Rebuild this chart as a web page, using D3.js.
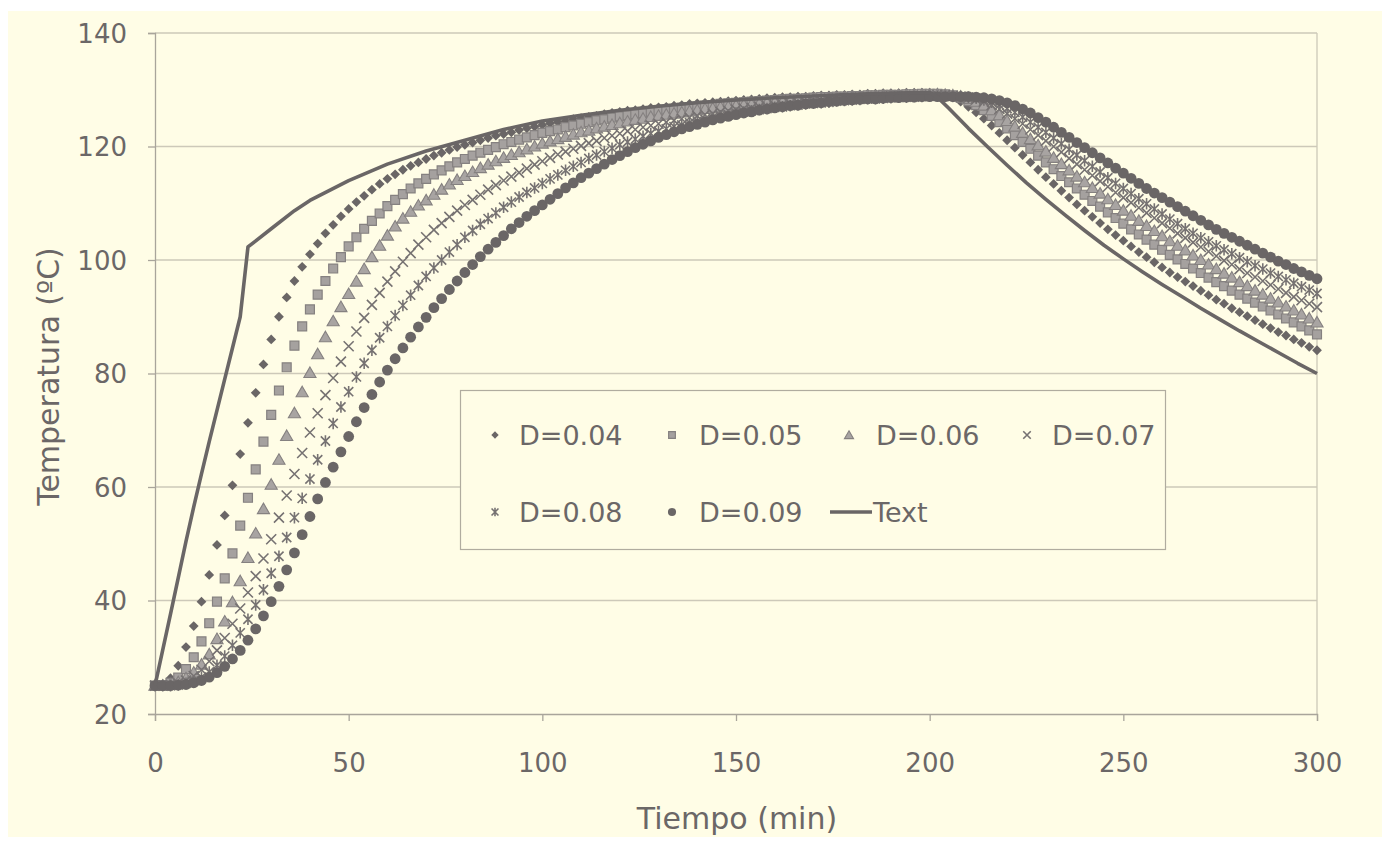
<!DOCTYPE html>
<html><head><meta charset="utf-8">
<script src="https://cdn.jsdelivr.net/npm/d3@7"></script>
<style>html,body{margin:0;padding:0;background:#fff;}svg{display:block;}</style>
</head><body>
<svg id="chart" width="1382" height="844"></svg>
<script>
// ---------- DATA (one value every 2 min, 0..300) ----------
const timeStep = 2;
const seriesNames = ["D=0.04", "D=0.05", "D=0.06", "D=0.07", "D=0.08", "D=0.09"];
const D04 = [25,25.3,26.3,28.5,31.8,35.5,39.8,44.5,49.8,55,60.3,65.8,71.3,76.6,81.6,86,90,93.4,96.3,98.8,101,
 102.9,104.7,106.2,107.7,109,110.2,111.3,112.4,113.4,114.3,115.1,115.9,116.6,117.2,117.8,118.4,118.9,119.4,119.9,120.3,
 120.7,121.1,121.5,121.9,122.2,122.5,122.9,123.2,123.5,123.8,124.1,124.3,124.5,124.8,125,125.2,125.4,125.7,125.9,126.1,
 126.3,126.4,126.6,126.8,126.9,127,127.2,127.3,127.5,127.6,127.7,127.8,127.9,128,128.1,128.2,128.3,128.4,128.5,128.6,
 128.7,128.7,128.8,128.8,128.9,129,129,129.1,129.1,129.2,129.2,129.3,129.3,129.4,129.4,129.4,129.5,129.5,129.5,129.5,
 129.4,129.1,128.6,127.9,127,126,124.9,123.7,122.4,121.1,119.8,118.5,117.2,115.9,114.6,113.4,112.2,111,109.8,108.7,
 107.6,106.5,105.4,104.4,103.4,102.4,101.4,100.5,99.6,98.7,97.8,97,96.2,95.4,94.6,93.8,93,92.3,91.5,90.8,
 90.1,89.4,88.7,88,87.3,86.7,86,85.4,84.7,84.1];
const D05 = [25,25.1,25.5,26.4,27.9,30,32.8,36,39.8,43.9,48.3,53.2,58.1,63.1,68,72.7,77,81.1,84.9,88.3,91.3,93.9,96.3,98.5,100.5,
 102.4,104,105.5,106.9,108.2,109.5,110.6,111.6,112.6,113.5,114.3,115.1,115.8,116.5,117.2,117.8,118.4,118.9,119.4,119.9,120.4,
 120.8,121.2,121.6,122,122.4,122.7,123,123.4,123.7,124,124.3,124.6,124.8,125.1,125.3,125.5,125.7,125.9,126.1,126.3,
 126.5,126.6,126.8,126.9,127.1,127.2,127.3,127.5,127.6,127.7,127.8,127.9,128,128.1,128.2,128.3,128.4,128.4,128.5,128.6,
 128.7,128.7,128.8,128.8,128.9,128.9,129,129,129.1,129.1,129.1,129.2,129.2,129.3,129.3,
 129.3,129.2,129,128.6,128,127.3,126.4,125.4,124.3,123.2,122,120.8,119.6,118.4,117.2,116,114.8,113.7,112.6,111.5,
 110.4,109.4,108.4,107.4,106.4,105.4,104.5,103.6,102.7,101.8,100.9,100.1,99.3,98.5,97.7,96.9,96.1,95.4,94.6,93.9,
 93.2,92.5,91.8,91.1,90.4,89.7,89,88.3,87.6,86.9];
const D06 = [25,25,25.2,25.6,26.3,27.3,28.7,30.5,33.2,36.3,39.7,43.4,47.5,51.8,56.1,60.4,64.8,69,73,76.7,80.1,83.4,86.4,89.2,91.7,94,96.2,
 98.4,100.5,102.5,104.3,105.9,107.3,108.5,109.6,110.5,111.5,112.4,113.3,114.1,114.8,115.5,116.2,116.8,117.4,118,
 118.5,119,119.5,120,120.5,120.9,121.3,121.7,122.1,122.5,122.8,123.2,123.5,123.8,124.1,124.4,124.7,124.9,125.2,125.4,
 125.6,125.8,126,126.2,126.4,126.6,126.7,126.9,127,127.2,127.3,127.4,127.6,127.7,127.8,127.9,128,128.1,128.2,128.3,
 128.4,128.5,128.5,128.6,128.7,128.7,128.8,128.8,128.9,128.9,129,129,129,129.1,129.1,
 129.2,129.1,129,128.8,128.4,127.9,127.2,126.4,125.5,124.5,123.5,122.4,121.3,120.2,119.1,118,116.9,115.8,114.7,113.7,
 112.7,111.7,110.7,109.7,108.7,107.8,106.9,106,105.1,104.2,103.3,102.5,101.7,100.8,100,99.2,98.4,97.6,96.9,96.1,
 95.4,94.6,93.9,93.2,92.5,91.8,91.1,90.4,89.7,89];
const D07 = [25,25,25.1,25.4,25.9,26.7,27.8,29.3,31.2,33.4,35.9,38.6,41.4,44.3,47.4,50.8,54.6,58.5,62.3,66,69.6,73,76.2,
 79.2,82.1,84.8,87.4,89.8,92.1,94.2,96.2,98,99.7,101.2,102.7,104,105.3,106.5,107.6,108.7,109.7,110.6,111.5,112.4,113.2,114,
 114.7,115.4,116.1,116.8,117.4,118,118.6,119.1,119.6,120.1,120.6,121,121.5,121.9,122.3,122.7,123,123.4,123.7,124,
 124.3,124.6,124.9,125.1,125.4,125.6,125.8,126.1,126.3,126.5,126.7,126.8,127,127.1,127.3,127.4,127.5,127.7,127.8,127.9,
 128,128.1,128.2,128.3,128.4,128.5,128.5,128.6,128.6,128.7,128.7,128.8,128.8,128.9,128.9,
 129,129,128.9,128.8,128.6,128.3,127.9,127.3,126.6,125.8,124.9,124,123,122,121,120,119,117.9,116.9,115.9,
 114.9,113.9,112.9,111.9,111,110.1,109.2,108.3,107.4,106.5,105.6,104.7,103.9,103.1,102.3,101.5,100.7,99.9,99.2,98.4,
 97.7,97,96.3,95.6,94.9,94.2,93.5,92.9,92.3,91.7];
const D08 = [25,25,25,25.1,25.4,25.8,26.5,27.4,28.6,30.2,32.1,34.3,36.7,39.2,41.9,44.8,47.8,51.1,54.6,58,61.4,64.8,68.1,71.2,74.1,76.8,
 79.4,81.8,84.1,86.3,88.3,90.2,92,93.8,95.5,97.1,98.6,100,101.4,102.7,104,105.2,106.3,107.3,108.3,109.3,
 110.2,111.1,111.9,112.7,113.5,114.3,115,115.8,116.5,117.2,117.9,118.5,119.1,119.7,120.3,120.8,121.3,121.8,122.3,122.7,
 123.1,123.5,123.8,124.2,124.5,124.8,125.1,125.4,125.6,125.9,126.1,126.3,126.5,126.7,126.9,127,127.2,127.3,127.5,127.6,
 127.7,127.8,128,128.1,128.2,128.3,128.4,128.4,128.5,128.6,128.7,128.7,128.8,128.8,128.9,
 128.9,128.9,128.9,128.8,128.7,128.5,128.2,127.8,127.3,126.7,126,125.2,124.3,123.4,122.5,121.5,120.5,119.5,118.5,117.5,
 116.5,115.5,114.5,113.5,112.6,111.7,110.8,109.9,109,108.1,107.2,106.4,105.5,104.7,103.9,103.2,102.5,101.8,101.1,100.4,
 99.7,99,98.4,97.7,97.1,96.5,95.9,95.3,94.7,94.1];
const D09 = [25,25,25,25.1,25.2,25.5,25.9,26.5,27.3,28.4,29.7,31.2,33,35,37.3,39.8,42.5,45.4,48.4,51.6,54.8,57.9,60.8,63.5,66.2,68.9,
 71.5,74,76.3,78.5,80.6,82.6,84.5,86.4,88.2,89.9,91.6,93.2,94.8,96.3,97.8,99.2,100.6,101.9,103.1,104.3,
 105.5,106.6,107.7,108.7,109.7,110.7,111.7,112.7,113.6,114.5,115.3,116.1,116.9,117.7,118.4,119.1,119.8,120.4,121,121.6,
 122.1,122.6,123.1,123.5,123.9,124.3,124.7,125,125.3,125.6,125.9,126.1,126.4,126.6,126.8,127,127.2,127.3,127.5,127.6,
 127.7,127.9,128,128.1,128.2,128.3,128.4,128.4,128.5,128.6,128.6,128.7,128.7,128.8,128.8,
 128.8,128.8,128.8,128.8,128.8,128.7,128.6,128.4,128.1,127.7,127.2,126.6,125.9,125.1,124.3,123.4,122.5,121.6,120.7,119.8,
 118.9,118,117.1,116.2,115.3,114.4,113.5,112.6,111.8,111,110.2,109.4,108.6,107.8,107,106.2,105.4,104.7,104,103.3,
 102.6,101.9,101.2,100.5,99.8,99.2,98.5,97.9,97.3,96.7];
// measured ("Text") curve
const textTime = [0,2,4,6,8,10,12,14,16,18,20,22,24,30,36,40,50,60,70,80,90,100,110,120,130,140,150,160,170,180,190,200,
 202,205,210,215,220,225,230,235,240,245,250,255,260,265,270,275,280,285,290,295,300];
const textTemp = [25,31.3,37.6,44,50.4,56.5,62.3,68,73.5,79,84.5,90,102.3,105.5,108.7,110.5,114,116.9,119.2,121.1,123,124.5,125.5,126.4,127.1,127.7,128.2,128.6,128.9,129.2,129.4,129.5,
 128.7,126.7,123.2,119.9,116.7,113.6,110.7,107.9,105.2,102.6,100.2,97.9,95.7,93.6,91.5,89.5,87.5,85.6,83.7,81.8,80];
const xTicks = [0, 50, 100, 150, 200, 250, 300];
const yTicks = [20, 40, 60, 80, 100, 120, 140];
const xTitle = "Tiempo (min)";
const yTitle = "Temperatura (ºC)";
const textLabel = "Text";

// ---------- DRAWING ----------
const svg = d3.select("#chart");
const bg = "#fffde6", ink = "#6b6767", grid = "#cdc9b9";
svg.append("rect").attr("x", 8).attr("y", 11).attr("width", 1374).attr("height", 826).attr("fill", bg);

const x = d3.scaleLinear().domain([0, 300]).range([155, 1317]);
const y = d3.scaleLinear().domain([20, 140]).range([714, 33]);

// gridlines
svg.append("g").selectAll("line").data(yTicks.filter(v => v > 20)).join("line")
  .attr("x1", x(0)).attr("x2", x(300)).attr("y1", d => y(d)).attr("y2", d => y(d))
  .attr("stroke", grid).attr("stroke-width", 1.3);
svg.append("line").attr("x1", x(300)).attr("x2", x(300)).attr("y1", y(140)).attr("y2", y(20))
  .attr("stroke", grid).attr("stroke-width", 1.3);

// axes
const fontFam = "'DejaVu Sans', Verdana, sans-serif";
const xAxis = svg.append("g").attr("transform", `translate(0,${y(20)})`)
  .call(d3.axisBottom(x).tickValues(xTicks).tickSize(7).tickPadding(33).tickFormat(d3.format("d")));
const yAxis = svg.append("g").attr("transform", `translate(${x(0)},0)`)
  .call(d3.axisLeft(y).tickValues(yTicks).tickSize(7).tickPadding(21).tickFormat(d3.format("d")));
[xAxis, yAxis].forEach(g => {
  g.select(".domain").attr("stroke", "#a9a59b").attr("stroke-width", 1.3);
  g.selectAll(".tick line").attr("stroke", "#a9a59b").attr("stroke-width", 1.3);
  g.selectAll("text").attr("fill", ink).attr("font-size", 26).attr("font-family", fontFam);
});
yAxis.selectAll("text").attr("dy", "0.36em");

svg.append("text").attr("x", (x(0) + x(300)) / 2 + 1).attr("y", 829).attr("text-anchor", "middle")
  .attr("fill", ink).attr("font-size", 30).attr("font-family", fontFam).text(xTitle);
svg.append("text").attr("transform", `translate(59,${(y(20) + y(140)) / 2 + 3}) rotate(-90)`).attr("text-anchor", "middle")
  .attr("fill", ink).attr("font-size", 30).attr("font-family", fontFam).text(yTitle);

// marker shapes
function crossPath(r) { return `M${-r},${-r}L${r},${r}M${-r},${r}L${r},${-r}`; }
function starPath(r) { return crossPath(r) + `M0,${-r * 1.25}L0,${r * 1.25}`; }
const styles = [
  { draw: (g, s) => g.append("path").attr("d", d3.symbol(d3.symbolSquare, 48 * s * s)()).attr("transform", "rotate(45)").attr("fill", "#6a6666") },
  { draw: (g, s) => g.append("path").attr("d", d3.symbol(d3.symbolSquare, 80 * s * s)()).attr("fill", "#a5a19f").attr("stroke", "#858180").attr("stroke-width", 1.2) },
  { draw: (g, s) => g.append("path").attr("d", d3.symbol(d3.symbolTriangle, 64 * s * s)()).attr("transform", "translate(0,1)").attr("fill", "#a8a4a2").attr("stroke", "#858180").attr("stroke-width", 1.1) },
  { draw: (g, s) => g.append("path").attr("d", crossPath(5 * s)).attr("fill", "none").attr("stroke", "#767272").attr("stroke-width", 1.6) },
  { draw: (g, s) => g.append("path").attr("d", starPath(4.6 * s)).attr("fill", "none").attr("stroke", "#767272").attr("stroke-width", 1.6) },
  { draw: (g, s) => g.append("circle").attr("r", 5.4 * s).attr("fill", "#6a6666") }
];
const allSeries = [D04, D05, D06, D07, D08, D09];

const plot = svg.append("g");
allSeries.forEach((vals, si) => {
  const g = plot.append("g");
  vals.forEach((v, i) => {
    const m = g.append("g").attr("transform", `translate(${x(i * timeStep)},${y(v)})`);
    styles[si].draw(m, 1);
  });
});

// measured line
const line = d3.line().x((d, i) => x(textTime[i])).y(d => y(d));
plot.append("path").attr("d", line(textTemp)).attr("fill", "none").attr("stroke", "#6a6666")
  .attr("stroke-width", 3.6).attr("stroke-linejoin", "round");

// legend
const lg = svg.append("g");
lg.append("rect").attr("x", 460.5).attr("y", 390.5).attr("width", 705).attr("height", 159)
  .attr("fill", bg).attr("stroke", "#b0ac9f").attr("stroke-width", 1.2);
const legendItems = seriesNames.map((n, i) => ({ name: n, idx: i })).concat([{ name: textLabel, idx: 6 }]);
const colX = [495, 672, 849, 1027];
const textX = [519, 699, 876, 1052];
legendItems.forEach((it, k) => {
  const col = k < 4 ? k : k - 4;
  const rowY = k < 4 ? 435 : 512;
  const mx = colX[col];
  const g = lg.append("g").attr("transform", `translate(${mx},${rowY})`);
  if (it.idx < 6) styles[it.idx].draw(g, 0.75);
  else g.append("line").attr("x1", -19).attr("x2", 23).attr("stroke", "#6a6666").attr("stroke-width", 3.6);
  lg.append("text").attr("x", it.idx === 6 ? 873 : textX[col]).attr("y", rowY).attr("dy", "0.36em")
    .attr("fill", ink).attr("font-size", 27).attr("font-family", fontFam).text(it.name);
});
</script>
</body></html>
